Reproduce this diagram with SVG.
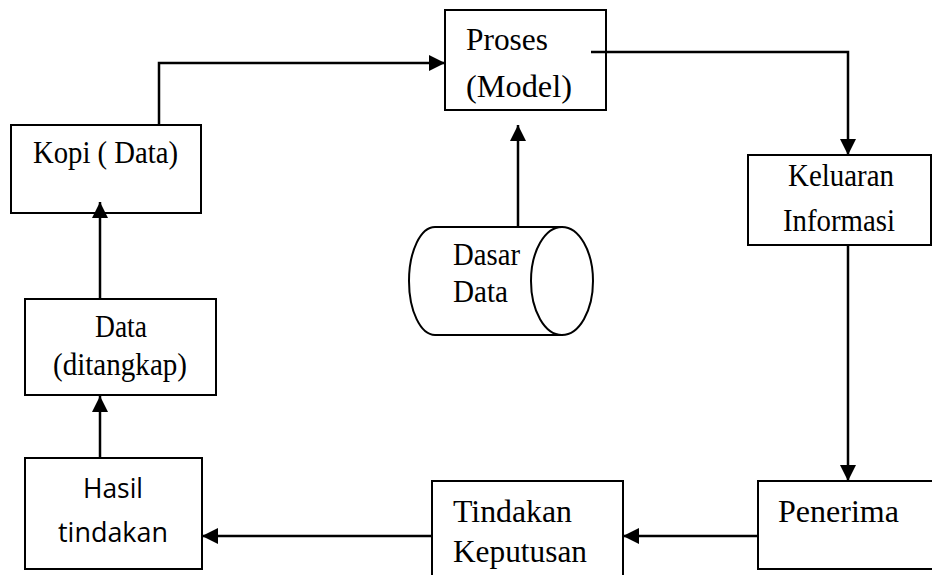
<svg xmlns="http://www.w3.org/2000/svg" width="932" height="575" viewBox="0 0 932 575">
<style>
.box{fill:#fff;stroke:#000;stroke-width:2}
.t{font-family:"Liberation Serif","Times New Roman",serif;font-size:31px;fill:#000}
.s{font-family:"Open Sans","Liberation Sans",sans-serif;font-size:27px;fill:#000}
.c{fill:none;stroke:#000;stroke-width:2.5}
</style>
<defs>
<marker id="ah" markerUnits="userSpaceOnUse" markerWidth="16" markerHeight="16" viewBox="0 0 16 16" refX="16" refY="8" orient="auto">
<polygon points="0,0 16,8 0,16" fill="#000"/>
</marker>
</defs>
<rect width="932" height="575" fill="#fff"/>
<g id="proses">
<rect class="box" x="445" y="10" width="161" height="100"/>
<text class="t" x="466" y="50" textLength="82" lengthAdjust="spacingAndGlyphs">Proses</text>
<text class="t" x="466" y="97" textLength="106" lengthAdjust="spacingAndGlyphs">(Model)</text>
</g>
<g id="kopi">
<rect class="box" x="11" y="125" width="190" height="88"/>
<text class="t" x="33" y="163" textLength="145" lengthAdjust="spacingAndGlyphs">Kopi ( Data)</text>
</g>
<g id="data">
<rect class="box" x="25" y="299" width="191" height="96"/>
<text class="t" x="95" y="337" textLength="52" lengthAdjust="spacingAndGlyphs">Data</text>
<text class="t" x="53" y="375" textLength="134" lengthAdjust="spacingAndGlyphs">(ditangkap)</text>
</g>
<g id="hasil">
<rect class="box" x="25" y="458" width="177" height="111"/>
<text class="s" x="83" y="498" textLength="60" lengthAdjust="spacingAndGlyphs">Hasil</text>
<text class="s" x="58" y="542" textLength="110" lengthAdjust="spacingAndGlyphs">tindakan</text>
</g>
<g id="tindakan">
<rect class="box" x="432" y="481" width="191" height="110"/>
<text class="t" x="453" y="522" textLength="119" lengthAdjust="spacingAndGlyphs">Tindakan</text>
<text class="t" x="453" y="562" textLength="134" lengthAdjust="spacingAndGlyphs">Keputusan</text>
</g>
<g id="penerima">
<rect class="box" x="758" y="481" width="190" height="88"/>
<text class="t" x="778" y="522" textLength="121" lengthAdjust="spacingAndGlyphs">Penerima</text>
</g>
<g id="keluaran">
<rect class="box" x="748" y="155" width="183" height="90"/>
<text class="t" x="788" y="186" textLength="106" lengthAdjust="spacingAndGlyphs">Keluaran</text>
<text class="t" x="783" y="231" textLength="112" lengthAdjust="spacingAndGlyphs">Informasi</text>
</g>
<g id="dasar">
<path class="box" d="M435,227 L562,227 L562,335 L435,335 A26,54 0 0 1 435,227 Z"/>
<ellipse class="box" cx="562" cy="281" rx="31" ry="54"/>
<text class="t" x="453" y="265" textLength="67" lengthAdjust="spacingAndGlyphs">Dasar</text>
<text class="t" x="453" y="302" textLength="55" lengthAdjust="spacingAndGlyphs">Data</text>
</g>
<g id="connectors">
<path class="c" d="M159,125 L159,63 L445,63" marker-end="url(#ah)"/>
<path class="c" d="M591,52 L848,52 L848,155" marker-end="url(#ah)"/>
<path class="c" d="M518,227 L518,125" marker-end="url(#ah)"/>
<path class="c" d="M848,245 L848,481" marker-end="url(#ah)"/>
<path class="c" d="M758,536 L623,536" marker-end="url(#ah)"/>
<path class="c" d="M432,536 L202,536" marker-end="url(#ah)"/>
<path class="c" d="M100,458 L100,396" marker-end="url(#ah)"/>
<path class="c" d="M100,299 L100,202" marker-end="url(#ah)"/>
</g>
</svg>
